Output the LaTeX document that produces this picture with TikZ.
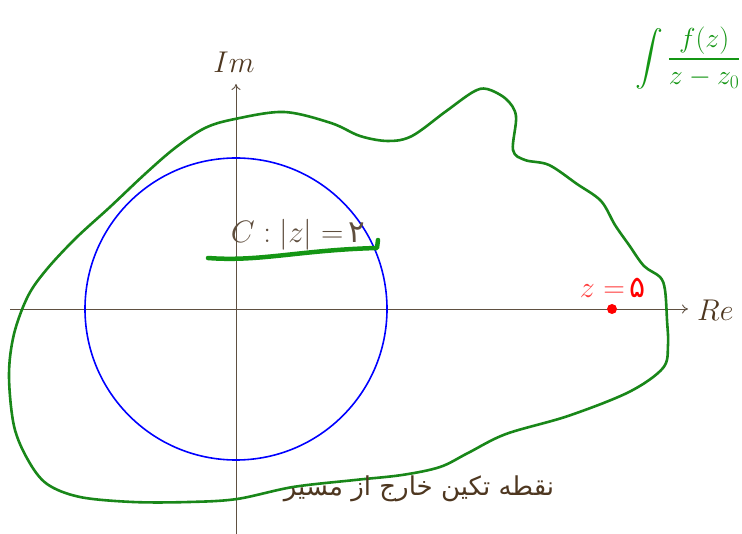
\RequirePackage{fix-cm}
\documentclass[tikz,border=0pt]{standalone}
\usepackage{fontspec}
\usepackage{amsmath}
\usepackage{graphicx}
\TeXXeTstate=1
\newfontfamily\arabicfont[Script=Arabic]{DejaVu Sans}
\usetikzlibrary{arrows.meta}
\definecolor{brn}{RGB}{78,55,32}
\definecolor{axc}{RGB}{95,80,65}
\definecolor{lbl}{RGB}{95,78,62}
\definecolor{grn}{RGB}{25,135,25}
\definecolor{hgrn}{RGB}{20,150,20}
\definecolor{zred}{RGB}{255,60,60}
\newcommand{\hwformula}{\scalebox{1.12}[1.1]{$\displaystyle\int\frac{f(z)}{z-z_{0}}$}}
\newcommand{\persnote}{\arabicfont\beginR نقطه تکین خارج از مسیر\endR}
\tikzset{
  axis/.style={draw=axc, line width=0.9pt, -{To[length=6pt,width=9pt]}},
  contour/.style={draw=grn, line width=2.6pt, line join=round},
  circ/.style={draw=blue, line width=1.6pt},
  bigtxt/.style={font=\fontsize{30}{36}\selectfont, inner sep=0pt},
}
\begin{document}
\begin{tikzpicture}[x=1pt,y=-1pt]
\useasboundingbox (0,0) rectangle (742,534);
\clip (0,0) rectangle (742,534);
\fill[white] (0,0) rectangle (742,534);
% axes
\coordinate (xs) at (10,309);
\coordinate (xe) at (688,309);
\coordinate (ys) at (236,534);
\coordinate (ye) at (236,84);
\coordinate (O) at (236,309);
\draw[axis] (xs) -- (xe);
\draw[axis] (ys) -- (ye);
\node[bigtxt, text=brn, anchor=west] (re) at (697,310) {$Re$};
\node[bigtxt, text=brn] (im) at (234,62) {$Im$};
% circle |z|=2
\draw[circ] (O) circle[radius=151];
% contour
\draw[contour] plot[smooth cycle, tension=0.55] coordinates {
(235,119) (284,112) (331,123) (360,136) (388,141) (412,136) (445,112) (473,92)
(487,89) (506,99) (516,116) (513,150) (525,160) (549,165) (577,184) (601,201)
(615,225) (629,245) (644,266) (660,277) (665,290) (667,320) (668,345) (663,368)
(629,392) (568,416) (506,434) (468,453) (440,467) (402,475) (355,480) (293,487)
(237,499) (189,502) (133,502) (80,497) (47,484) (28,460) (14,426) (9,375)
(14,334) (28,296) (47,269) (76,238) (110,207) (145,174) (175,148) (205,128)};
% label C
\node[bigtxt, text=lbl, anchor=base] (clab) at (298,243) {\fontsize{31}{36}\selectfont$C:|z|=$\,{\arabicfont ۲}};
% hand underline
\coordinate (u1) at (208,258);
\coordinate (u2) at (377,248);
\coordinate (u3) at (378,240);
\draw[draw=hgrn, line width=4.5pt, line cap=round, line join=round]
  (u1) .. controls (260,262) and (300,250) .. (u2) -- (u3);
% singular point
\node[circle, fill=red, inner sep=0pt, minimum size=10pt] (p5) at (612,309) {};
\node[bigtxt, anchor=base, text=zred] (z5) at (613,298) {$z=$\,{\arabicfont\color{red}۵}};
% bottom Persian text
\node[font=\fontsize{26}{30}\selectfont, text=brn, inner sep=0pt] (note) at (419,489) {\persnote};
% handwritten formula
\node[font=\fontsize{25}{30}\selectfont, text=hgrn, anchor=east, inner sep=0pt] (frm) at (741,58) {\hwformula};
\end{tikzpicture}
\end{document}
